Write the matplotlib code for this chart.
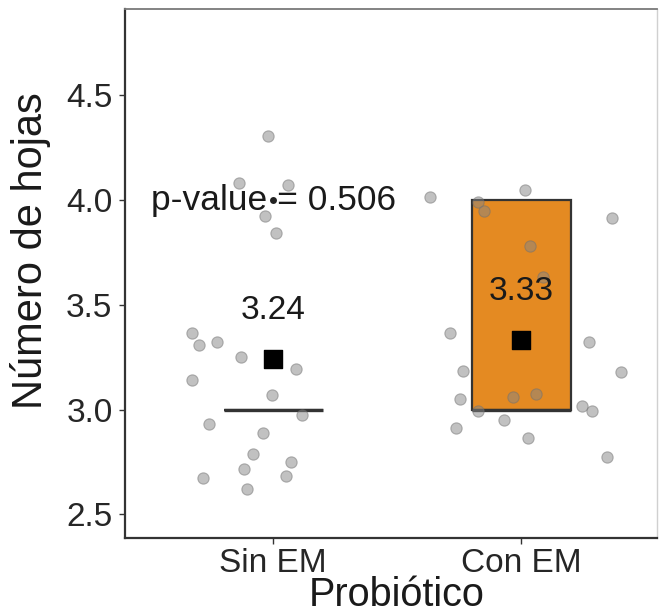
import matplotlib
matplotlib.use("Agg")
import matplotlib.pyplot as plt

plt.rcParams['font.family'] = ['Liberation Sans', 'DejaVu Sans']

# Groups and labels
categories = ['Sin EM', 'Con EM']
y_ticks = [2.5, 3.0, 3.5, 4.0, 4.5]
y_label = 'Número de hojas'
x_label = 'Probiótico'
p_value = 0.506

# Jittered observations: horizontal offset from the group centre and value
sin_offsets = [-0.019, -0.136, 0.059, -0.032, 0.012, -0.328, -0.298, -0.227,
               -0.130, 0.092, -0.328, -0.005, 0.118, -0.258, -0.043, -0.081,
               0.071, -0.118, 0.052, -0.283, -0.106]
sin_values = [4.305, 4.080, 4.072, 3.924, 3.844, 3.364, 3.308, 3.324,
              3.249, 3.192, 3.141, 3.069, 2.974, 2.929, 2.886, 2.788,
              2.751, 2.715, 2.684, 2.672, 2.621]
con_offsets = [-0.370, 0.013, -0.177, -0.152, 0.363, 0.033, 0.085, -0.289,
               0.273, -0.235, 0.399, -0.246, -0.036, 0.060, -0.177, 0.242,
               0.286, -0.070, -0.262, 0.027, 0.343]
con_values = [4.016, 4.048, 3.992, 3.947, 3.916, 3.782, 3.634, 3.367,
              3.324, 3.185, 3.178, 3.050, 3.058, 3.074, 2.994, 3.018,
              2.994, 2.950, 2.913, 2.863, 2.772]

# Box summaries per group
q1 = [3.0, 3.0]
median = [3.0, 3.0]
q3 = [3.0, 4.0]
whisker_low = [3.0, 3.0]
whisker_high = [3.0, 4.0]
outliers = [[4.0], []]
means = [3.24, 3.33]

box_fill = ['none', '#E48A22']
dark = '#333333'

fig = plt.figure(figsize=(6.59, 6.13), dpi=100)
ax = fig.add_axes([125 / 659, 75 / 613, 532 / 659, 529 / 613])

positions = [1, 2]
stats = []
for i, name in enumerate(categories):
    stats.append(dict(label=name, q1=q1[i], med=median[i], q3=q3[i],
                      whislo=whisker_low[i], whishi=whisker_high[i],
                      fliers=outliers[i]))

bp = ax.bxp(stats, positions=positions, widths=0.4, patch_artist=True,
            showcaps=False, showfliers=True,
            boxprops=dict(edgecolor=dark, linewidth=1.6),
            medianprops=dict(color=dark, linewidth=2.4),
            whiskerprops=dict(color=dark, linewidth=1.6),
            flierprops=dict(marker='o', markerfacecolor='#222222',
                            markeredgecolor='none', markersize=5),
            zorder=2)
for patch, fc in zip(bp['boxes'], box_fill):
    patch.set_facecolor(fc)

# Jittered points
groups = [(sin_offsets, sin_values), (con_offsets, con_values)]
for pos, (offs, vals) in zip(positions, groups):
    xs = [pos + o for o in offs]
    ax.scatter(xs, vals, s=66, facecolor='#858585', edgecolor='#707070',
               linewidth=0.8, alpha=0.5, zorder=3)

# Group means and their labels
ax.scatter(positions, means, marker='s', s=150, color='black', zorder=4)
for pos, m in zip(positions, means):
    ax.text(pos, m + 0.235, f'{m:.2f}', ha='center', va='center',
            fontsize=24, color='#1a1a1a', zorder=5)

ax.text(1, 4.0, f'p-value = {p_value}', ha='center', va='center',
        fontsize=25.5, color='#1a1a1a', zorder=5)

ax.set_xlim(0.403, 2.546)
ax.set_ylim(2.387, 4.912)
ax.set_xticks(positions)
ax.set_xticklabels(categories)
ax.set_yticks(y_ticks)
ax.set_yticklabels([f'{t:.1f}' for t in y_ticks])
ax.tick_params(axis='y', labelsize=24)
ax.tick_params(axis='x', labelsize=24)
ax.tick_params(axis='both', colors=dark, labelcolor='#262626',
               length=4, width=1.0)
ax.tick_params(axis='y', pad=5)
ax.tick_params(axis='x', pad=3)

ax.set_xlabel(x_label, fontsize=28.5, color='#1a1a1a')
ax.set_ylabel(y_label, fontsize=30, color='#1a1a1a')
ax.xaxis.set_label_coords(0.511, -0.107)
ax.yaxis.set_label_coords(-0.178, 0.5425)
ax.xaxis.label.set_va('center')
ax.yaxis.label.set_va('center')

ax.spines['left'].set_color(dark)
ax.spines['left'].set_linewidth(1.6)
ax.spines['bottom'].set_color(dark)
ax.spines['bottom'].set_linewidth(1.6)
ax.spines['top'].set_color('#7a7a7a')
ax.spines['top'].set_linewidth(1.3)
ax.spines['right'].set_color('#d0d0d0')
ax.spines['right'].set_linewidth(1.0)

fig.savefig('out.png', dpi=100, facecolor='white')
